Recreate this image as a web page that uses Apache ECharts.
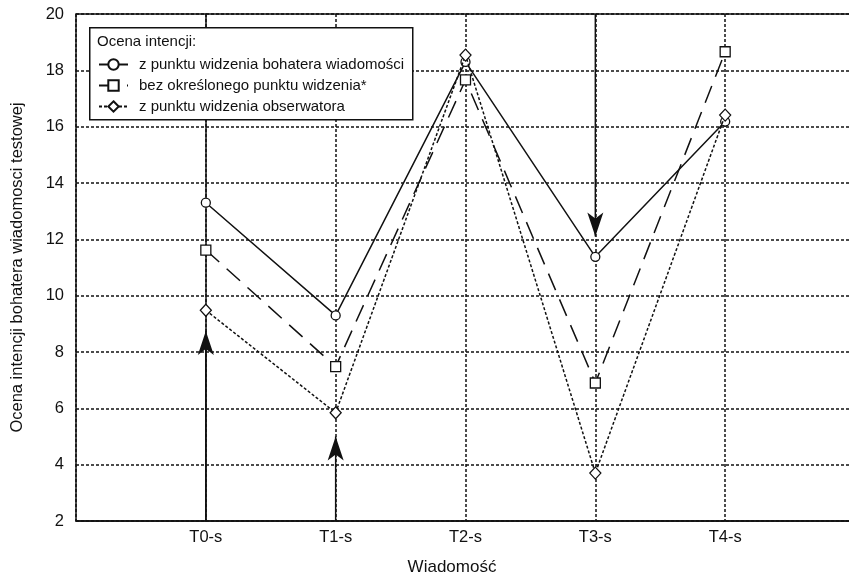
<!DOCTYPE html>
<html>
<head>
<meta charset="utf-8">
<script src="https://cdn.jsdelivr.net/npm/echarts@6/dist/echarts.min.js"></script>
<style>html,body{margin:0;padding:0;background:#fff}#c{width:849px;height:585px}</style>
</head>
<body>
<div id="c"></div>
<script>
const categories = ['T0-s', 'T1-s', 'T2-s', 'T3-s', 'T4-s'];
const seriesNames = [
  'z punktu widzenia bohatera wiadomości',
  'bez określonego punktu widzenia*',
  'z punktu widzenia obserwatora'
];
const bohater = [13.3, 9.3, 18.3, 11.38, 16.18];
const bezPunktu = [11.62, 7.48, 17.66, 6.9, 18.66];
const obserwator = [9.48, 5.84, 18.54, 3.7, 16.41];
const legendTitle = 'Ocena intencji:';
const yTitle = 'Ocena intencji bohatera wiadomosci testowej';
const xTitle = 'Wiadomość';
// arrows: category index, start value, tip value
const arrows = [
  [0, 2, 8.75],
  [1, 2, 5.0],
  [3, 20, 12.1]
];

const FONT = 'Liberation Sans, Arial, sans-serif';
const toPairs = arr => arr.map((v, i) => [i, v]);

const arrowSeries = arrows.map(a => {
  const up = a[2] > a[1];
  return {
    type: 'line', silent: true, z: 2, legendHoverLink: false,
    lineStyle: {color: '#111', width: 1.5, type: 'solid'},
    itemStyle: {color: '#111', borderWidth: 0},
    data: [
      {value: [a[0], a[1]], symbol: 'none'},
      {value: [a[0], a[2]], symbol: 'arrow', symbolSize: [12, 24],
       symbolRotate: up ? 0 : 180}
    ]
  };
});

const chart = echarts.init(document.getElementById('c'), null, {renderer: 'canvas'});
const option = {
  backgroundColor: '#fff',
  animation: false,
  grid: {left: 76, right: -6, top: 14, bottom: 64, outerBoundsMode: 'none', containLabel: false,
         show: true, borderColor: '#111', borderWidth: 1.5, backgroundColor: 'transparent'},
  xAxis: {
    type: 'value', min: -1, max: 5, interval: 1,
    axisLine: {show: true, onZero: false, lineStyle: {color: '#111', width: 1.5}},
    axisTick: {show: false},
    axisLabel: {
      color: '#111', fontFamily: FONT, fontSize: 16.5, margin: 8,
      formatter: v => (v >= 0 && v < categories.length) ? categories[v] : ''
    },
    splitLine: {show: true, lineStyle: {color: '#111', width: 1.5, type: [3, 2]}},
    name: xTitle, nameLocation: 'middle', nameGap: 38, nameMoveOverlap: false,
    nameTextStyle: {color: '#111', fontFamily: FONT, fontSize: 17, padding: [0, 27, 0, 0]}
  },
  yAxis: {
    type: 'value', min: 2, max: 20, interval: 2,
    axisLine: {show: true, lineStyle: {color: '#111', width: 1.5}},
    axisTick: {show: false},
    axisLabel: {color: '#111', fontFamily: FONT, fontSize: 16.5, margin: 12},
    splitLine: {show: true, lineStyle: {color: '#111', width: 1.5, type: [3, 2]}},
    name: yTitle, nameLocation: 'middle', nameGap: 50, nameMoveOverlap: false,
    nameTextStyle: {color: '#111', fontFamily: FONT, fontSize: 16.5}
  },
  legend: {
    orient: 'vertical', left: 93, top: 52, z: 60,
    itemWidth: 29, itemHeight: 13, itemGap: 6,
    textStyle: {color: '#111', fontFamily: FONT, fontSize: 15, padding: [0, 0, 0, 6]},
    data: seriesNames
  },
  graphic: [
    {type: 'rect', left: 89, top: 27, z: 50,
     shape: {width: 323, height: 92},
     style: {fill: '#fff', stroke: '#111', lineWidth: 1.5}},
    {type: 'text', left: 97, top: 34, z: 51,
     style: {text: legendTitle, fill: '#111', font: '15px ' + FONT}}
  ],
  series: [
    {
      name: seriesNames[0], type: 'line', data: toPairs(bohater), z: 3,
      symbol: 'circle', symbolSize: 9, showAllSymbol: true,
      itemStyle: {color: '#fff', borderColor: '#111', borderWidth: 1.3},
      lineStyle: {color: '#111', width: 1.5, type: 'solid'}
    },
    {
      name: seriesNames[1], type: 'line', data: toPairs(bezPunktu), z: 4,
      symbol: 'rect', symbolSize: 10,
      itemStyle: {color: '#fff', borderColor: '#111', borderWidth: 1.3},
      lineStyle: {color: '#111', width: 1.5, type: [18, 10]}
    },
    {
      name: seriesNames[2], type: 'line', data: toPairs(obserwator), z: 5,
      symbol: 'diamond', symbolSize: [11, 12],
      itemStyle: {color: '#fff', borderColor: '#111', borderWidth: 1.3},
      lineStyle: {color: '#111', width: 1.5, type: [3, 2]}
    }
  ].concat(arrowSeries)
};
chart.setOption(option);
</script>
</body>
</html>
